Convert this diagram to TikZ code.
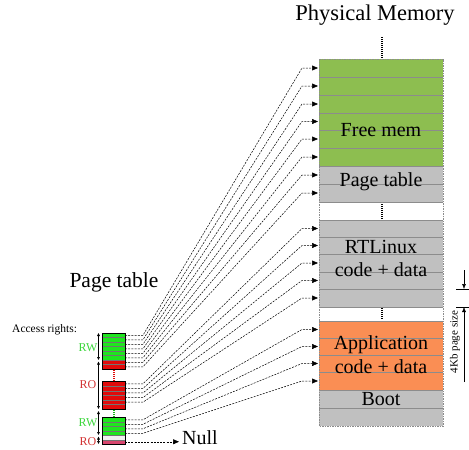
\documentclass[tikz,border=0pt]{standalone}
\usepackage{fontspec}
\setmainfont{Liberation Serif}
\usetikzlibrary{arrows.meta}
\definecolor{memgreen}{RGB}{141,190,80}
\definecolor{memorange}{RGB}{250,142,84}
\definecolor{memgray}{RGB}{192,192,192}
\definecolor{memline}{RGB}{140,140,140}
\definecolor{ptgreen}{RGB}{30,230,30}
\definecolor{ptred}{RGB}{225,10,10}
\definecolor{ptpink}{RGB}{215,70,110}
\definecolor{rwgreen}{RGB}{60,215,60}
\definecolor{rored}{RGB}{210,50,50}
\begin{document}
\begin{tikzpicture}[x=1pt,y=-1pt,
  rowsep/.style={memline,line width=0.5pt},
  ptsep/.style={black!55,line width=0.3pt},
  memtext/.style={font=\fontsize{20}{22}\selectfont,inner sep=0pt},
  bigtitle/.style={font=\fontsize{21.5}{23}\selectfont,inner sep=0pt},
  smalltext/.style={font=\fontsize{11.5}{13}\selectfont,inner sep=0pt},
  arlabel/.style={font=\fontsize{12}{14}\selectfont,inner sep=0pt},
  conn/.style={line width=0.5pt,dash pattern=on 2pt off 1.2pt,-{Triangle[length=6pt,width=5pt]}},
  rangebar/.style={line width=0.5pt,{Latex[length=3pt,width=3pt]}-{Latex[length=3pt,width=3pt]}},
  gapdots/.style={line width=2pt,dash pattern=on 1pt off 1pt}]
\useasboundingbox (0,0) rectangle (469,450);

% ---------- Physical memory ----------
\fill[memgreen] (319,59) rectangle (443,166);
\fill[memgray] (319,166) rectangle (443,202);
\fill[memgray] (319,220) rectangle (443,307);
\fill[memorange] (319,321) rectangle (443,390);
\fill[memgray] (319,390) rectangle (443,426);
\foreach \y in {77,95,113,130,148,166,184,202,220,237,254,272,289,307,321,338,355,372,390,408}
  \draw[rowsep] (319,\y) -- (443,\y);
\draw[memline,line width=0.6pt,dash pattern=on 1.5pt off 1pt] (319,59) rectangle (443,426);

\draw[gapdots] (382,37) -- (382,58);
\draw[gapdots] (382,204) -- (382,219);
\draw[gapdots] (382,308) -- (382,320);

\node[bigtitle,font=\fontsize{22.5}{24}\selectfont] (pmtitle) at (375,15) {Physical Memory};
\node[memtext] (freemem) at (381,130) {Free mem};
\node[memtext] (mempt) at (381,182) {Page table};
\node[memtext] (rtl1) at (381,247) {RTLinux};
\node[memtext] (rtl2) at (381,270) {code + data};
\node[memtext] (app1) at (381,345) {Application};
\node[memtext] (app2) at (381,367) {code + data};
\node[memtext] (boot) at (381,399) {Boot};

% memory targets
\foreach \y [count=\k from 0] in {68,86,104,121.5,139,157,175,193,228.5,245.5,263,280.5,298,329.5,346.5,363.5,381}
  \coordinate (m\k) at (318,\y);

% ---------- 4Kb page size marker ----------
\coordinate (tkA) at (456,289);
\coordinate (tkB) at (456,307);
\draw[line width=0.5pt] (tkA) -- ++(13,0);
\draw[line width=0.5pt] (tkB) -- ++(13,0);
\coordinate (dimTop) at (464,270);
\coordinate (dimBot) at (464,382);
\draw[line width=0.5pt,-{Latex[length=5pt,width=4pt]}] (dimTop) -- (dimTop |- tkA);
\draw[line width=0.5pt,-{Latex[length=5pt,width=4pt]}] (dimBot) -- (dimBot |- tkB);
\node[smalltext,rotate=90,font=\fontsize{11}{12}\selectfont] (pagesize) at (455,342) {4Kb page size};

% ---------- Page table ----------
\node[bigtitle] (pttitle) at (114,282) {Page table};
\node[smalltext,anchor=west] (access) at (12,330) {Access rights:};

% top block: 6 green + 2 red
\fill[ptgreen] (102.5,333) rectangle (125,360);
\fill[ptred] (102.5,360) rectangle (125,369);
\foreach \i in {1,...,7} \draw[ptsep] (102.5,333+4.5*\i) -- (125,333+4.5*\i);
\draw[line width=0.4pt] (102.5,333) rectangle (125,369);
% middle block: 6 red
\fill[ptred] (102.5,381.5) rectangle (125,409);
\foreach \i in {1,...,5} \draw[ptsep] (102.5,381.5+4.583*\i) -- (125,381.5+4.583*\i);
\draw[line width=0.4pt] (102.5,381.5) rectangle (125,409);
% bottom block: 4 green + empty + pink
\fill[ptgreen] (102.5,417.5) rectangle (125,435.5);
\fill[black!6] (102.5,435.5) rectangle (125,439.5);
\fill[ptpink] (102.5,439.5) rectangle (125,444);
\foreach \i in {1,...,5} \draw[ptsep] (102.5,417.5+4.5*\i) -- (125,417.5+4.5*\i);
\draw[line width=0.4pt] (102.5,417.5) rectangle (125,444);

\draw[ptred,gapdots] (113.5,370) -- (113.5,381);
\draw[ptgreen!80!black,gapdots] (113.5,410) -- (113.5,417);

% access rights ranges
\draw[rangebar] (98.5,333) -- (98.5,360);
\draw[rangebar] (98.5,361.5) -- (98.5,409);
\draw[rangebar] (98.5,411) -- (98.5,435);
\draw[rangebar] (98.5,436.5) -- (98.5,444);
\node[arlabel,text=rwgreen] (rw1) at (88,348) {RW};
\node[arlabel,text=rored] (ro1) at (88,385) {RO};
\node[arlabel,text=rwgreen] (rw2) at (88,423) {RW};
\node[arlabel,text=rored] (ro2) at (88,441.5) {RO};

% page table entry anchors
\foreach \i in {0,...,7} \coordinate (pa\i) at (125,335.25+4.5*\i);
\foreach \i in {0,...,4} \coordinate (pb\i) at (125,383.8+4.583*\i);
\foreach \i in {0,...,3} \coordinate (pc\i) at (125,419.75+4.5*\i);
\coordinate (pnull) at (125,441.75);

% connectors
\foreach \i in {0,...,7}
  \draw[conn] (pa\i) -- ([xshift=18pt]pa\i) -- ([xshift=-16pt]m\i) -- (m\i);
\foreach \i [evaluate=\i as \k using int(\i+8)] in {0,...,4}
  \draw[conn] (pb\i) -- ([xshift=18pt]pb\i) -- ([xshift=-16pt]m\k) -- (m\k);
\foreach \i [evaluate=\i as \k using int(\i+13)] in {0,...,3}
  \draw[conn] (pc\i) -- ([xshift=18pt]pc\i) -- ([xshift=-16pt]m\k) -- (m\k);

\node[bigtitle,anchor=west,font=\fontsize{20}{22}\selectfont] (null) at (182,438) {Null};
\draw[conn] (pnull) -- ([xshift=-3pt]pnull -| null.west);
\end{tikzpicture}
\end{document}
